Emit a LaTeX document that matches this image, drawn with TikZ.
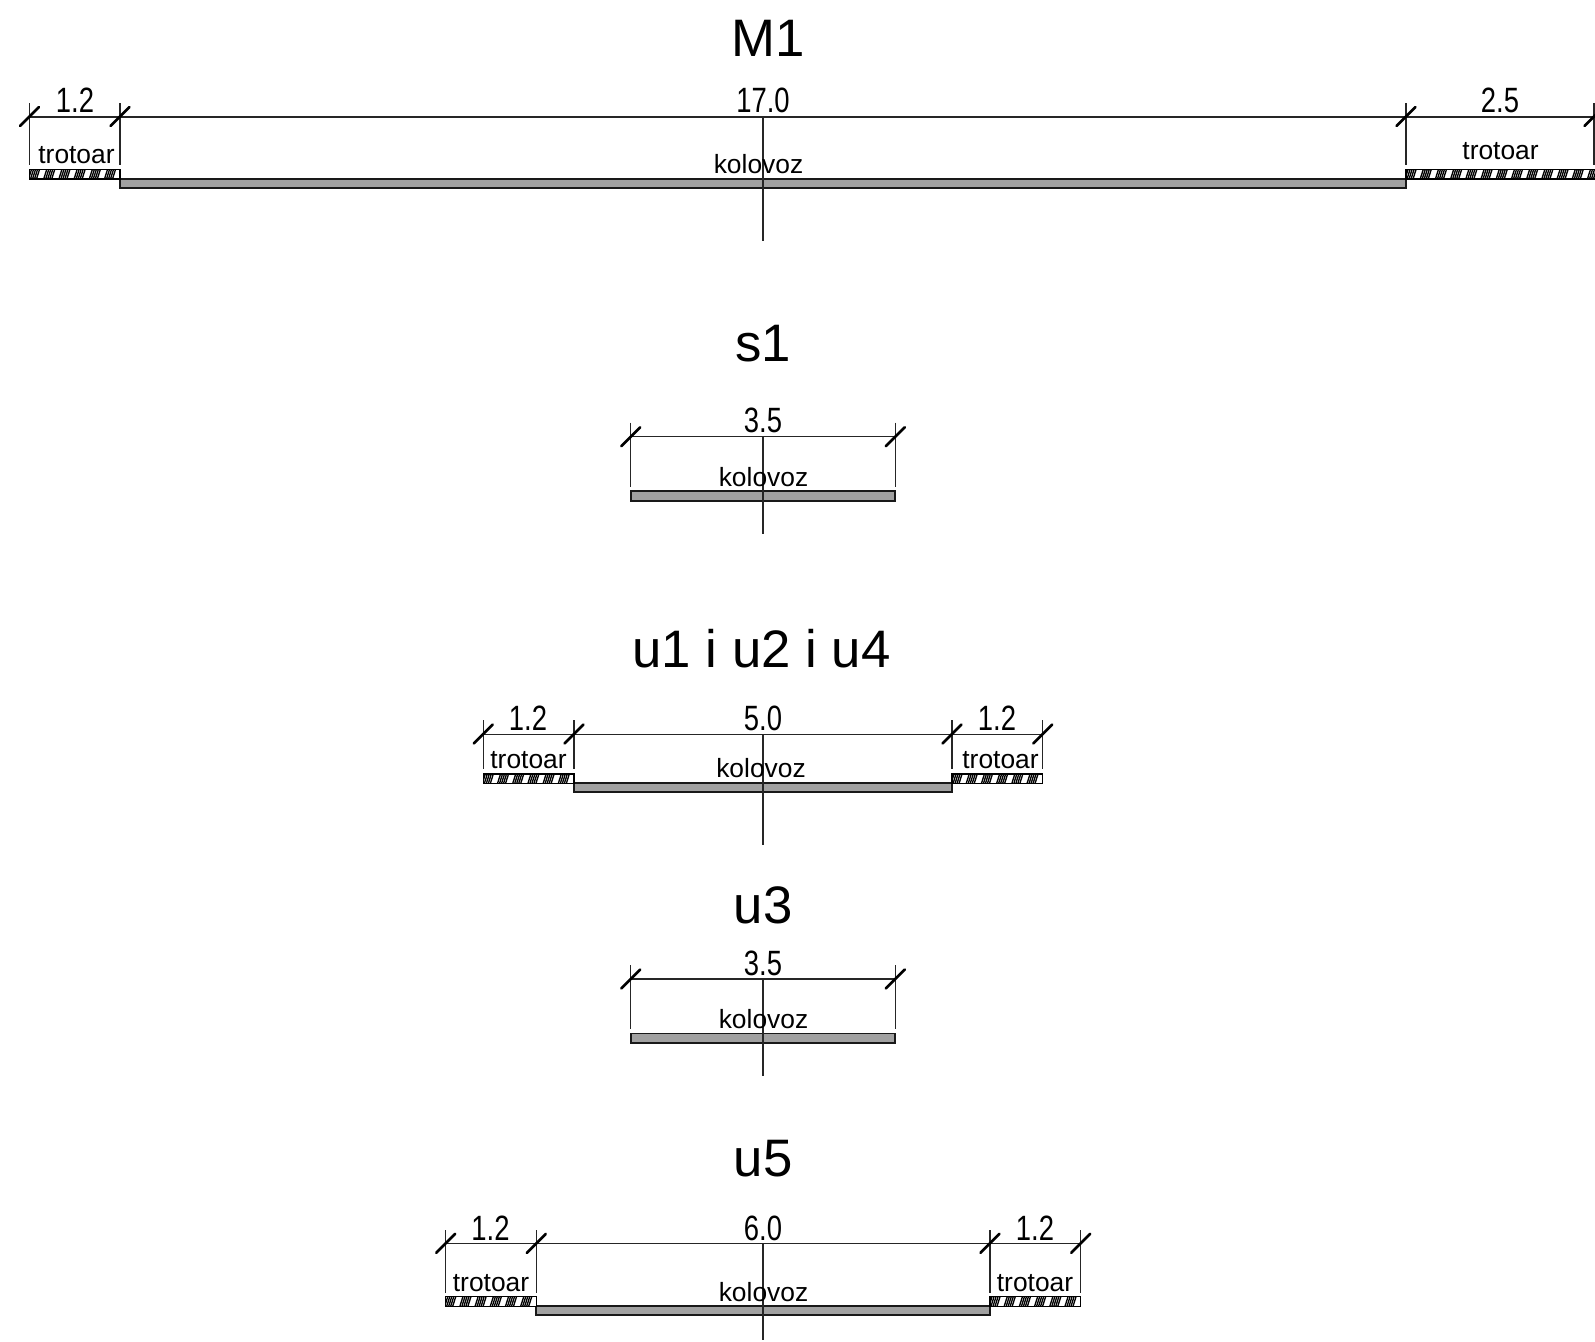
\documentclass[tikz,border=0pt]{standalone}
\usepackage{fontspec}
\setmainfont{Liberation Sans}
\newfontfamily\dimfont[FakeStretch=0.78]{Liberation Sans}
\newcommand{\sidewalk}[4]{%
    \begin{scope}
        \clip (#1, #3) rectangle (#2, #3+9.5);
        \fill[white] (#1, #3) rectangle (#2, #3+9.5);
        \foreach \k in {0,...,#4} {
            \foreach \d in {0,2,4,6,8} {
                \draw[hatchline] ({#1+\k*15.2+\d-1}, #3+9.5) -- ({#1+\k*15.2+\d+2}, #3);
            }
        }
    \end{scope}
    \draw[walkedge] (#1, #3) rectangle (#2, #3+9.5);
}
\tikzset{
    titlelabel/.style={anchor=base, inner sep=0pt, font=\fontsize{15}{18}\selectfont},
    dimlabel/.style={anchor=base, inner sep=0pt, font=\dimfont\fontsize{10}{12}\selectfont},
    partlabel/.style={anchor=base, inner sep=0pt, font=\fontsize{7.5}{9}\selectfont},
    thinline/.style={line width=0.42pt, draw=black!85},
    tickline/.style={line width=0.75pt, line cap=round},
    hatchline/.style={line width=0.38pt},
    walkedge/.style={line width=0.4pt},
    roadbed/.style={line width=0.5pt, draw=black!90, fill=black!37}
}
\begin{document}
\begin{tikzpicture}[x=0.01cm, y=-0.01cm]
    \clip (0, 0) rectangle (1595, 1341);

    \node[titlelabel] (titleM) at (768, 56.5) {M1};
    \draw[roadbed] (120, 179) rectangle (1406, 188);
    \sidewalk{29.5}{120}{169.5}{5}
    \sidewalk{1406}{1600}{169.5}{12}
    \draw[thinline] (29.5, 117) -- (1594, 117);
    \draw[thinline] (763, 117) -- (763, 241);
    \foreach \x in {29.5, 120, 1406, 1594} {
        \draw[thinline] (\x, 103) -- (\x, 165);
        \draw[tickline] (\x-9.5, 126) -- (\x+9.5, 107);
    }
    \node[dimlabel] (dimMa) at (75, 112.3) {1.2};
    \node[dimlabel] (dimMb) at (763, 112.3) {17.0};
    \node[dimlabel] (dimMc) at (1500, 112.3) {2.5};
    \node[partlabel] (walkMa) at (76.5, 163) {trotoar};
    \node[partlabel] (roadM) at (758.5, 173) {kolovoz};
    \node[partlabel] (walkMb) at (1500.5, 159.3) {trotoar};

    \node[titlelabel] (titleS) at (763, 361) {s1};
    \draw[roadbed] (630.7, 491.3) rectangle (895.3, 501);
    \draw[thinline] (630.7, 436.7) -- (895.3, 436.7);
    \draw[thinline] (763, 436.7) -- (763, 534.3);
    \foreach \x in {630.7, 895.3} {
        \draw[thinline] (\x, 422.7) -- (\x, 487);
        \draw[tickline] (\x-9.5, 446.2) -- (\x+9.5, 427.2);
    }
    \node[dimlabel] (dimS) at (763, 432.3) {3.5};
    \node[partlabel] (roadS) at (763.5, 486.7) {kolovoz};

    \node[titlelabel] (titleUa) at (761.5, 667.5) {u1 i u2 i u4};
    \draw[roadbed] (574, 783.3) rectangle (952, 792.3);
    \sidewalk{483.3}{574}{774}{5}
    \sidewalk{952}{1042.7}{774}{5}
    \draw[thinline] (483.3, 734.5) -- (1042.7, 734.5);
    \draw[thinline] (763, 734.5) -- (763, 844.5);
    \foreach \x in {483.3, 574, 952, 1042.7} {
        \draw[thinline] (\x, 720) -- (\x, 769);
        \draw[tickline] (\x-9.5, 743.5) -- (\x+9.5, 724.5);
    }
    \node[dimlabel] (dimUa) at (528, 730.7) {1.2};
    \node[dimlabel] (dimUb) at (763, 730.7) {5.0};
    \node[dimlabel] (dimUc) at (997, 730.7) {1.2};
    \node[partlabel] (walkUa) at (528.5, 768) {trotoar};
    \node[partlabel] (roadU) at (761, 777) {kolovoz};
    \node[partlabel] (walkUb) at (1000.5, 768) {trotoar};

    \node[titlelabel] (titleUc) at (763, 923.5) {u3};
    \draw[roadbed] (630.7, 1033.5) rectangle (895.3, 1043);
    \draw[thinline] (630.7, 979) -- (895.3, 979);
    \draw[thinline] (763, 979) -- (763, 1076);
    \foreach \x in {630.7, 895.3} {
        \draw[thinline] (\x, 965) -- (\x, 1029);
        \draw[tickline] (\x-9.5, 988.5) -- (\x+9.5, 969.5);
    }
    \node[dimlabel] (dimUd) at (763, 975) {3.5};
    \node[partlabel] (roadUc) at (763.5, 1028.5) {kolovoz};

    \node[titlelabel] (titleUe) at (763, 1176.5) {u5};
    \draw[roadbed] (536.3, 1306.3) rectangle (990, 1315.3);
    \sidewalk{445.7}{536.3}{1296.7}{5}
    \sidewalk{990}{1080.7}{1296.7}{5}
    \draw[thinline] (445.7, 1243.3) -- (1080.7, 1243.3);
    \draw[thinline] (763, 1243.3) -- (763, 1340);
    \foreach \x in {445.7, 536.3, 990, 1080.7} {
        \draw[thinline] (\x, 1230) -- (\x, 1292.7);
        \draw[tickline] (\x-9.5, 1252.8) -- (\x+9.5, 1233.8);
    }
    \node[dimlabel] (dimUe) at (490.5, 1240) {1.2};
    \node[dimlabel] (dimUf) at (763, 1240) {6.0};
    \node[dimlabel] (dimUg) at (1035, 1240) {1.2};
    \node[partlabel] (walkUe) at (491, 1291) {trotoar};
    \node[partlabel] (roadUe) at (763.5, 1301) {kolovoz};
    \node[partlabel] (walkUf) at (1035, 1291) {trotoar};
\end{tikzpicture}
\end{document}
